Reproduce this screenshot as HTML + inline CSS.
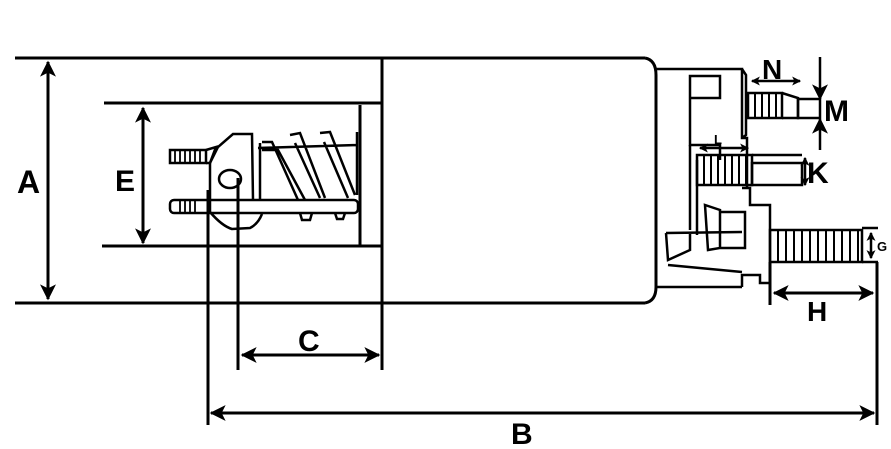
<!DOCTYPE html>
<html><head><style>html,body{margin:0;padding:0;background:#fff}svg{display:block}</style></head><body>
<svg width="891" height="449" viewBox="0 0 891 449" xmlns="http://www.w3.org/2000/svg">
<defs>
<marker id="ar" viewBox="0 0 12 12" refX="11" refY="6" markerWidth="16" markerHeight="16" markerUnits="userSpaceOnUse" orient="auto-start-reverse"><path d="M0,0 L12,6 L0,12 L3,6 Z" fill="#000"/></marker>
<marker id="sm" viewBox="0 0 8 8" refX="7" refY="4" markerWidth="9" markerHeight="9" markerUnits="userSpaceOnUse" orient="auto-start-reverse"><path d="M0,0 L8,4 L0,8 L2,4 Z" fill="#000"/></marker>
</defs>
<g stroke="#000" stroke-width="3" fill="none">
<line x1="15" y1="58" x2="645" y2="58"/>
<line x1="15" y1="303" x2="645" y2="303"/>
<path d="M645,58 Q656,60 656,75 L656,287 Q656,301 645,303"/>
<line x1="382" y1="58" x2="382" y2="370"/>
<line x1="104" y1="103" x2="382" y2="103"/>
<line x1="102" y1="246" x2="382" y2="246"/>
<line x1="360" y1="105" x2="360" y2="246"/>
<line x1="208" y1="190" x2="208" y2="425"/>
<line x1="238" y1="178" x2="238" y2="370"/>
<line x1="877" y1="262" x2="877" y2="425"/>
<line x1="770" y1="262" x2="770" y2="305"/>
</g>
<g stroke="#000" stroke-width="3" fill="none">
<line x1="48" y1="62" x2="48" y2="299" marker-start="url(#ar)" marker-end="url(#ar)"/>
<line x1="143" y1="108" x2="143" y2="243" marker-start="url(#ar)" marker-end="url(#ar)"/>
<line x1="242" y1="355" x2="379" y2="355" marker-start="url(#ar)" marker-end="url(#ar)"/>
<line x1="211" y1="413" x2="874" y2="413" marker-start="url(#ar)" marker-end="url(#ar)"/>
<line x1="774" y1="293" x2="873" y2="293" marker-start="url(#ar)" marker-end="url(#ar)"/>
</g>
<g stroke="#000" stroke-width="2.5" fill="none">
<line x1="752" y1="81" x2="800" y2="81" marker-start="url(#sm)" marker-end="url(#sm)"/>
<line x1="700" y1="148" x2="748" y2="148" marker-start="url(#sm)" marker-end="url(#sm)"/>
<line x1="820" y1="57" x2="820" y2="99" marker-end="url(#ar)"/>
<line x1="820" y1="150" x2="820" y2="119" marker-end="url(#ar)"/>
<line x1="805" y1="158" x2="805" y2="185" marker-start="url(#sm)" marker-end="url(#sm)"/>
<line x1="871" y1="233" x2="871" y2="258" marker-start="url(#sm)" marker-end="url(#sm)"/>
</g>
<!-- plunger -->
<g stroke="#000" stroke-width="2.5" fill="none">
<rect x="170" y="150" width="36" height="13"/>
<path d="M206,150 L216,147 L210,163 L206,163"/>
<rect x="170" y="200" width="188" height="13" rx="4"/>
<path d="M210,163 L210,212 Q222,226 232,229 L250,228 Q258,224 262,214 M210,163 L218,147 L233,134 L252,134 L253,200"/>
<ellipse cx="230" cy="179" rx="11" ry="9"/>
<path d="M260,143 L260,200 M262,142 L272,142 L298,200 M262,150 L278,150 L305,200 M290,135 L300,133 L325,198 M295,143 L320,198 M320,133 L330,132 L355,195 M324,142 L348,198 M258,148 L357,145 M357,132 L357,195"/>
<path d="M300,213 L302,220 L310,220 L312,213 M335,213 L337,219 L343,219 L345,213"/>
</g>
<g stroke="#000" stroke-width="1.8">
<line x1="175" y1="150" x2="175" y2="163"/><line x1="180" y1="150" x2="180" y2="163"/><line x1="185" y1="150" x2="185" y2="163"/><line x1="190" y1="150" x2="190" y2="163"/><line x1="195" y1="150" x2="195" y2="163"/><line x1="200" y1="150" x2="200" y2="163"/>
<line x1="180" y1="200" x2="180" y2="213"/><line x1="185" y1="200" x2="185" y2="213"/><line x1="190" y1="200" x2="190" y2="213"/><line x1="195" y1="200" x2="195" y2="213"/>
</g>
<!-- terminal end -->
<g stroke="#000" stroke-width="2.5" fill="none">
<path d="M656,69 L742,69 L742,138 L747,138 L747,188 M742,69 L746,75 L746,135 L742,138"/>
<path d="M690,76 L720,76 L720,98 L690,98 Z M690,76 L690,145 L720,145 L720,160"/>
<path d="M690,145 L690,230 M697,160 L697,235"/>
<path d="M656,287 L742,287 M742,287 L742,275 L760,275 L760,283 L770,283 L770,205 L750,205 L750,188 L742,188"/>
<rect x="748" y="93" width="34" height="25"/>
<path d="M782,93 L798,98 L798,118 L782,118"/>
<rect x="798" y="99" width="22" height="19"/>
<rect x="697" y="155" width="55" height="30"/>
<rect x="752" y="163" width="50" height="22"/>
<line x1="752" y1="155" x2="802" y2="155"/>
<path d="M705,205 L708,250 L720,248 L720,210 Z M720,212 L745,212 L745,248 L720,248"/>
<path d="M666,233 L742,232 M666,233 L668,260 L690,250 L690,233 M668,265 L742,272"/>
<rect x="770" y="230" width="92" height="32"/>
<line x1="862" y1="228" x2="878" y2="228"/><line x1="862" y1="262" x2="878" y2="262"/>
</g>
<g stroke="#000" stroke-width="2">
<line x1="755" y1="93" x2="755" y2="118"/><line x1="762" y1="93" x2="762" y2="118"/><line x1="769" y1="93" x2="769" y2="118"/><line x1="776" y1="93" x2="776" y2="118"/>
<line x1="704" y1="155" x2="704" y2="185"/><line x1="711" y1="155" x2="711" y2="185"/><line x1="718" y1="155" x2="718" y2="185"/><line x1="725" y1="155" x2="725" y2="185"/><line x1="732" y1="155" x2="732" y2="185"/><line x1="739" y1="155" x2="739" y2="185"/><line x1="746" y1="155" x2="746" y2="185"/>
<line x1="778" y1="230" x2="778" y2="262"/><line x1="786" y1="230" x2="786" y2="262"/><line x1="794" y1="230" x2="794" y2="262"/><line x1="802" y1="230" x2="802" y2="262"/><line x1="810" y1="230" x2="810" y2="262"/><line x1="818" y1="230" x2="818" y2="262"/><line x1="826" y1="230" x2="826" y2="262"/><line x1="834" y1="230" x2="834" y2="262"/><line x1="842" y1="230" x2="842" y2="262"/><line x1="850" y1="230" x2="850" y2="262"/><line x1="858" y1="230" x2="858" y2="262"/>
</g>
<g font-family="Liberation Sans, sans-serif" font-weight="bold" fill="#000">
<text x="17" y="193" font-size="32">A</text>
<text x="115" y="191" font-size="30">E</text>
<text x="298" y="351" font-size="30">C</text>
<text x="511" y="444" font-size="30">B</text>
<text x="807" y="321" font-size="28">H</text>
<text x="762" y="79" font-size="28">N</text>
<text x="824" y="121" font-size="30">M</text>
<text x="807" y="183" font-size="30">K</text>
<text x="714" y="144" font-size="13">L</text>
<text x="877" y="251" font-size="13">G</text>
</g>
</svg>
</body></html>
